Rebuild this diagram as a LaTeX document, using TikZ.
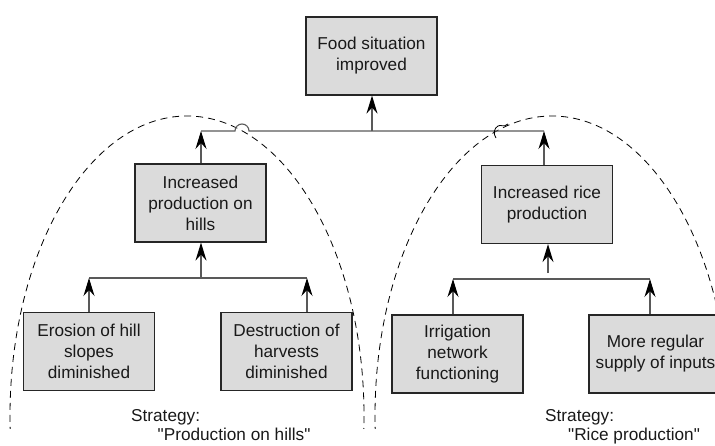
\documentclass[tikz,border=0pt]{standalone}
\usepackage{fontspec}
\setmainfont{Liberation Sans}[Ligatures=TeXOff]
\usetikzlibrary{arrows.meta}
\begin{document}
\begin{tikzpicture}[x=1pt,y=-1pt,
  box/.style={draw=black!85, line width=1.2pt, fill=black!14,
    minimum width=131pt, minimum height=78pt, inner sep=0pt,
    align=center, font=\fontsize{17.2}{21}\selectfont, text=black!90},
  link/.style={draw=black!65, line width=1.1pt},
  arr/.style={link, -{Stealth[length=18pt,width=11pt,inset=6pt,color=black]}},
  bound/.style={draw=black, line width=0.8pt, dash pattern=on 7pt off 5pt},
  lab/.style={font=\fontsize{17.2}{21}\selectfont, anchor=base west,
    inner sep=0pt, text=black!90}]
\useasboundingbox (0,0) rectangle (715,445);
\clip (0,0) rectangle (715,445);

% strategy boundaries
\begin{scope}
  \clip (0,0) rectangle (715,428);
  \draw[bound] (187,416) ellipse[x radius=177, y radius=300];
  \draw[bound] (552,416) ellipse[x radius=177, y radius=300];
\end{scope}

% objectives
\node[box] (food)    at (371.5,56)  {Food situation\\improved};
\node[box] (hills)   at (200.5,203) {Increased\\production on\\hills};
\node[box] (rice)    at (547,204.5) {Increased rice\\production};
\node[box] (erosion) at (89,351.5)  {Erosion of hill\\slopes\\diminished};
\node[box] (harvest) at (286.5,351.5) {Destruction of\\harvests\\diminished};
\node[box] (irrig)   at (457.5,354) {Irrigation\\network\\functioning};
\node[box, minimum width=133pt] (inputs) at (655.5,354) {More regular\\supply of inputs};

% junction points
\coordinate (tl) at (201,131);
\coordinate (tr) at (544,131);
\coordinate (jtop) at (372,131);
\coordinate (el) at (89,278);
\coordinate (er) at (307,278);
\coordinate (jl) at (201,278);
\coordinate (il) at (453,279);
\coordinate (ir) at (650,279);
\coordinate (rs) at (548,273);

% top level: bar with a hop over the left boundary
\draw[link] (tl) -- (235,131) arc[start angle=180, end angle=360, radius=7] -- (tr);
\draw[arr] (tl |- hills.north) -- (tl);
\draw[arr] (tr |- rice.north) -- (tr);
\draw[arr] (jtop) -- (jtop |- food.south);

% hills strategy
\draw[link] (el) -- (er);
\draw[arr] (el |- erosion.north) -- (el);
\draw[arr] (er |- harvest.north) -- (er);
\draw[arr] (jl) -- (jl |- hills.south);

% rice strategy
\draw[link] (il) -- (ir);
\draw[arr] (il |- irrig.north) -- (il);
\draw[arr] (ir |- inputs.north) -- (ir);
\draw[arr] (rs) -- (rs |- rice.south);

% small jog of the right boundary where it meets the bar
\draw[black, line width=0.8pt] (496,138) .. controls (493,134) and (494,128) .. (498,126)
  .. controls (501,124) and (503,128) .. (508,124);

% strategy labels
\node[lab] (s1)  at (131,421)   {Strategy:};
\node[lab] (s1b) at (157.5,440) {"Production on hills"};
\node[lab] (s2)  at (545,421)   {Strategy:};
\node[lab] (s2b) at (568,440)   {"Rice production"};
\end{tikzpicture}
\end{document}
